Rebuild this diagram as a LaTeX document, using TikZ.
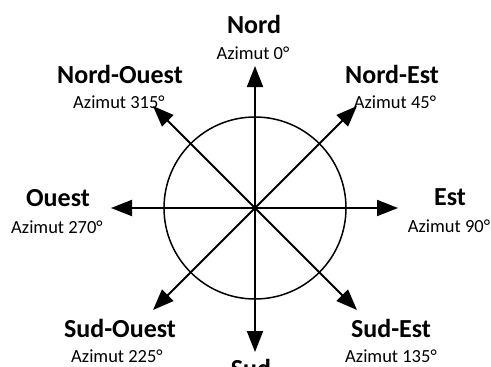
\documentclass[tikz,border=0pt]{standalone}
\usepackage{fontspec}
\setmainfont{Carlito}
\usetikzlibrary{arrows.meta}
\begin{document}
\begin{tikzpicture}[x=1pt,y=-1pt,
  arr/.style={line width=2pt,-{Triangle[length=21pt,width=16pt]}},
  dirlabel/.style={anchor=base,inner sep=0pt,font=\fontsize{26}{30}\selectfont\bfseries},
  azlabel/.style={anchor=base,inner sep=0pt,font=\fontsize{18.5}{22}\selectfont}]
\useasboundingbox[clip] (0,0) rectangle (491,367);
\fill[white] (0,0) rectangle (491,367);
\coordinate (c) at (255,208);
\node[circle,draw,line width=1.5pt,minimum size=182pt,inner sep=0pt] (circ) at (c) {};
\coordinate (tn) at (255,66);
\coordinate (ts) at (255,352);
\coordinate (tw) at (111,208);
\coordinate (te) at (398,208);
\coordinate (tnw) at (153,106);
\coordinate (tne) at (357,106);
\coordinate (tsw) at (153,310);
\coordinate (tse) at (357,310);
\foreach \t in {tn,ts,tw,te,tnw,tne,tsw,tse} \draw[arr] (c) -- (\t);
\node[dirlabel] (nord) at (254,33) {Nord};
\node[azlabel] (aznord) at (253,59) {Azimut 0°};
\node[dirlabel] (no) at (120,83) {Nord-Ouest};
\node[azlabel] (azno) at (119,108) {Azimut 315°};
\node[dirlabel] (ne) at (392,83) {Nord-Est};
\node[azlabel] (azne) at (395,108) {Azimut 45°};
\node[dirlabel] (ouest) at (58,206) {Ouest};
\node[azlabel] (azouest) at (57,233) {Azimut 270°};
\node[dirlabel] (est) at (450,205) {Est};
\node[azlabel] (azest) at (449,232) {Azimut 90°};
\node[dirlabel] (so) at (120,337) {Sud-Ouest};
\node[azlabel] (azso) at (117,362) {Azimut 225°};
\node[dirlabel] (se) at (391,337) {Sud-Est};
\node[azlabel] (azse) at (391,362) {Azimut 135°};
\node[dirlabel] (sud) at (251,377) {Sud};
\end{tikzpicture}
\end{document}
